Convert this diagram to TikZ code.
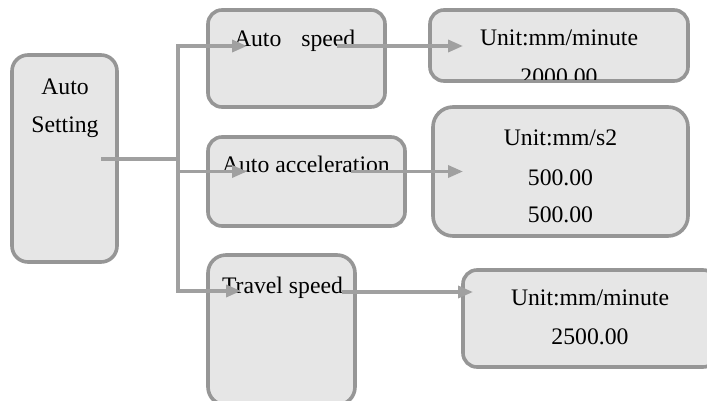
\documentclass[tikz,border=0pt]{standalone}
\usepackage{fontspec}
\setmainfont{Liberation Serif}
\usetikzlibrary{arrows.meta}
\definecolor{boxline}{RGB}{150,150,150}
\definecolor{boxfill}{RGB}{230,230,230}
\definecolor{wire}{RGB}{160,160,160}
\begin{document}
\begin{tikzpicture}[x=1pt,y=-1pt,
  box/.style={draw=boxline, fill=boxfill, line width=3.6pt, rounded corners=14pt,
              inner sep=0pt, outer sep=0pt},
  label/.style={inner sep=0pt, outer sep=0pt, font=\fontsize{23.7}{28}\selectfont},
  wireline/.style={draw=wire, line width=3.4pt},
  wirearrow/.style={wireline, -{Triangle[length=15pt,width=12pt]}}]
\useasboundingbox (0,0) rectangle (707,400);

% boxes
\node[box, minimum width=105pt, minimum height=207pt, rounded corners=16pt] (set) at (64.5,158.5) {};
\node[box, minimum width=177pt, minimum height=97pt] (spd) at (296.5,58.5) {};
\node[box, minimum width=197pt, minimum height=89pt] (acc) at (306.5,181.5) {};
\node[box, minimum width=147pt, minimum height=150pt, rounded corners=18pt] (trv) at (281.5,330) {};
\node[box, minimum width=258pt, minimum height=71pt] (u1) at (559,45.5) {};
\node[box, minimum width=255pt, minimum height=129pt, rounded corners=20pt] (u2) at (560.5,171.5) {};
\node[box, minimum width=254pt, minimum height=97pt] (u3) at (590,318.5) {};

% texts
\node[label, anchor=base] (setA) at (65,94) {Auto};
\node[label, anchor=base] (setB) at (65,132) {Setting};
\node[label, anchor=base west] (spdT) at (234,46) {Auto\hspace{20pt}speed};
\node[label, anchor=base west] (accT) at (222,172) {Auto acceleration};
\node[label, anchor=base west] (trvT) at (222,293) {Travel speed};
\node[label, anchor=base] (u1a) at (559,45) {Unit:mm/minute};
\begin{scope}
  \clip (432,12) rectangle (686,79);
  \node[label, anchor=base] (u1b) at (559,84) {2000.00};
\end{scope}
\node[label, anchor=base] (u2a) at (560.5,145) {Unit:mm/s2};
\node[label, anchor=base] (u2b) at (560.5,185) {500.00};
\node[label, anchor=base] (u2c) at (560.5,222) {500.00};
\node[label, anchor=base] (u3a) at (590,305) {Unit:mm/minute};
\node[label, anchor=base] (u3b) at (590,344) {2500.00};

% connector points
\coordinate (setout) at (101,159);
\coordinate (bus) at (178,159);
\coordinate (busTop) at (178,46);
\coordinate (busMid) at (178,171.5);
\coordinate (busBot) at (178,291);
\coordinate (spdIn) at (247,46);
\coordinate (accIn) at (247,171.5);
\coordinate (trvIn) at (241,291);
\coordinate (spdOut) at (337,46);
\coordinate (accOut) at (351,171.5);
\coordinate (trvOut) at (342,292);
\coordinate (u1In) at (463,46);
\coordinate (u2In) at (463,171.5);
\coordinate (u3In) at (473,292);

% connectors
\draw[wireline] (setout) -- (bus);
\draw[wireline, line cap=rect] (busTop) -- (busBot);
\draw[wirearrow] (busTop) -- (spdIn);
\draw[wirearrow] (busMid) -- (accIn);
\draw[wirearrow] (busBot) -- (trvIn);
\draw[wirearrow] (spdOut) -- (u1In);
\draw[wirearrow] (accOut) -- (u2In);
\draw[wirearrow] (trvOut) -- (u3In);
\end{tikzpicture}
\end{document}
